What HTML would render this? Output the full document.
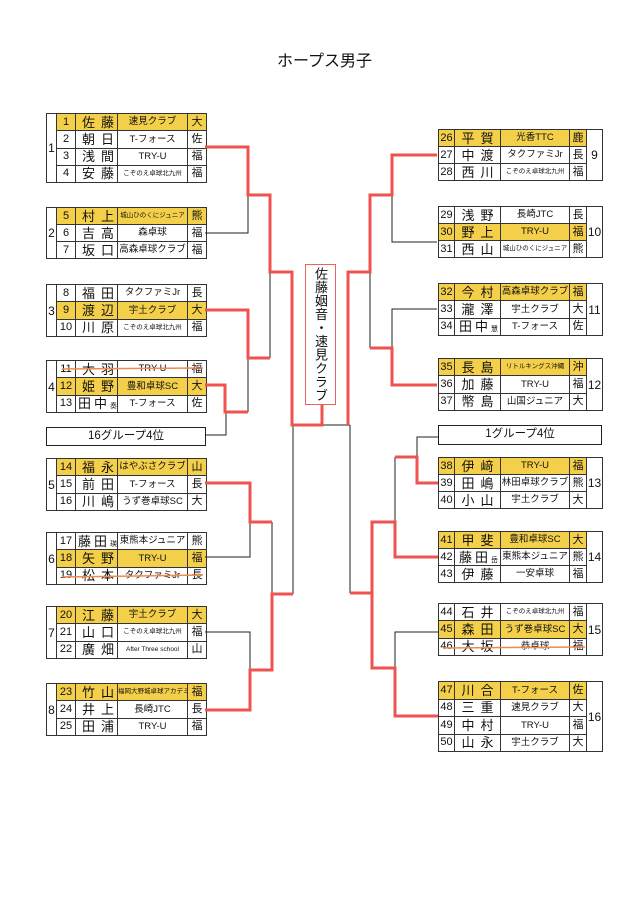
<!DOCTYPE html>
<html><head><meta charset="utf-8"><style>
body{margin:0;width:637px;height:901px;background:#fff;position:relative;overflow:hidden;font-family:"Liberation Sans","Noto Sans CJK JP",sans-serif;color:#111}
.t{position:absolute;border-collapse:collapse;border:1.5px solid #222;table-layout:fixed}
.t td{border:1px solid #333;padding:0;text-align:center;font-size:11px;line-height:1;white-space:nowrap;overflow:hidden}
.t td.n{font-size:13px;letter-spacing:6px;padding-left:6px}
.t td.n2{font-size:13px;letter-spacing:3px;padding-left:2px}
.t td.c{font-size:9.5px}
.t td.s{font-size:6.5px}
.t td.p{font-size:11px}
.t td.g{font-size:12px}
tr.y td.h{background:#f4cf4a}
.sm{font-size:7px;letter-spacing:0}
.box{position:absolute;border:1.5px solid #222;font-size:11.5px;text-align:center;line-height:17px;box-sizing:border-box}
</style></head><body>
<div style="position:absolute;left:277px;top:47px;font-size:16px;">ホープス男子</div>

<!-- LEFT -->
<table class="t" style="left:46px;top:113px;width:160px;height:70px">
<colgroup><col style="width:10px"><col style="width:19px"><col style="width:42px"><col style="width:70px"><col style="width:19px"></colgroup>
<tr class="y"><td class="g" rowspan="4">1</td><td class="h">1</td><td class="n h">佐藤</td><td class="c h">速見クラブ</td><td class="p h">大</td></tr>
<tr><td>2</td><td class="n">朝日</td><td class="c">T-フォース</td><td class="p">佐</td></tr>
<tr><td>3</td><td class="n">浅間</td><td class="c">TRY-U</td><td class="p">福</td></tr>
<tr><td>4</td><td class="n">安藤</td><td class="s">こぞのえ卓球北九州</td><td class="p">福</td></tr></table>

<table class="t" style="left:46px;top:207px;width:160px;height:52px">
<colgroup><col style="width:10px"><col style="width:19px"><col style="width:42px"><col style="width:70px"><col style="width:19px"></colgroup>
<tr class="y"><td class="g" rowspan="3">2</td><td class="h">5</td><td class="n h">村上</td><td class="s h">城山ひのくにジュニア</td><td class="p h">熊</td></tr>
<tr><td>6</td><td class="n">吉高</td><td class="c">森卓球</td><td class="p">福</td></tr>
<tr><td>7</td><td class="n">坂口</td><td class="c">高森卓球クラブ</td><td class="p">福</td></tr></table>

<table class="t" style="left:46px;top:284px;width:160px;height:53px">
<colgroup><col style="width:10px"><col style="width:19px"><col style="width:42px"><col style="width:70px"><col style="width:19px"></colgroup>
<tr><td class="g" rowspan="3">3</td><td>8</td><td class="n">福田</td><td class="c">タクファミJr</td><td class="p">長</td></tr>
<tr class="y"><td class="h">9</td><td class="n h">渡辺</td><td class="c h">宇土クラブ</td><td class="p h">大</td></tr>
<tr><td>10</td><td class="n">川原</td><td class="s">こぞのえ卓球北九州</td><td class="p">福</td></tr></table>

<table class="t" style="left:46px;top:360px;width:160px;height:53px">
<colgroup><col style="width:10px"><col style="width:19px"><col style="width:42px"><col style="width:70px"><col style="width:19px"></colgroup>
<tr><td class="g" rowspan="3">4</td><td>11</td><td class="n">大羽</td><td class="c">TRY-U</td><td class="p">福</td></tr>
<tr class="y"><td class="h">12</td><td class="n h">姫野</td><td class="c h">豊和卓球SC</td><td class="p h">大</td></tr>
<tr><td>13</td><td class="n2">田中<span class="sm">奏</span></td><td class="c">T-フォース</td><td class="p">佐</td></tr></table>

<div class="box" style="left:46px;top:427px;width:160px;height:19px">16グループ4位</div>

<table class="t" style="left:46px;top:458px;width:160px;height:53px">
<colgroup><col style="width:10px"><col style="width:19px"><col style="width:42px"><col style="width:70px"><col style="width:19px"></colgroup>
<tr class="y"><td class="g" rowspan="3">5</td><td class="h">14</td><td class="n h">福永</td><td class="c h">はやぶさクラブ</td><td class="p h">山</td></tr>
<tr><td>15</td><td class="n">前田</td><td class="c">T-フォース</td><td class="p">長</td></tr>
<tr><td>16</td><td class="n">川嶋</td><td class="c">うず巻卓球SC</td><td class="p">大</td></tr></table>

<table class="t" style="left:46px;top:532px;width:160px;height:53px">
<colgroup><col style="width:10px"><col style="width:19px"><col style="width:42px"><col style="width:70px"><col style="width:19px"></colgroup>
<tr><td class="g" rowspan="3">6</td><td>17</td><td class="n2">藤田<span class="sm">瑛</span></td><td class="c">東熊本ジュニア</td><td class="p">熊</td></tr>
<tr class="y"><td class="h">18</td><td class="n h">矢野</td><td class="c h">TRY-U</td><td class="p h">福</td></tr>
<tr><td>19</td><td class="n">松本</td><td class="c">タクファミJr</td><td class="p">長</td></tr></table>

<table class="t" style="left:46px;top:606px;width:160px;height:53px">
<colgroup><col style="width:10px"><col style="width:19px"><col style="width:42px"><col style="width:70px"><col style="width:19px"></colgroup>
<tr class="y"><td class="g" rowspan="3">7</td><td class="h">20</td><td class="n h">江藤</td><td class="c h">宇土クラブ</td><td class="p h">大</td></tr>
<tr><td>21</td><td class="n">山口</td><td class="s">こぞのえ卓球北九州</td><td class="p">福</td></tr>
<tr><td>22</td><td class="n">廣畑</td><td class="s">After Three school</td><td class="p">山</td></tr></table>

<table class="t" style="left:46px;top:683px;width:160px;height:53px">
<colgroup><col style="width:10px"><col style="width:19px"><col style="width:42px"><col style="width:70px"><col style="width:19px"></colgroup>
<tr class="y"><td class="g" rowspan="3">8</td><td class="h">23</td><td class="n h">竹山</td><td class="s h">福岡大野城卓球アカデミー</td><td class="p h">福</td></tr>
<tr><td>24</td><td class="n">井上</td><td class="c">長崎JTC</td><td class="p">長</td></tr>
<tr><td>25</td><td class="n">田浦</td><td class="c">TRY-U</td><td class="p">福</td></tr></table>

<!-- RIGHT -->
<table class="t" style="left:438px;top:129px;width:164px;height:52px">
<colgroup><col style="width:16px"><col style="width:46px"><col style="width:69px"><col style="width:17px"><col style="width:16px"></colgroup>
<tr class="y"><td class="h">26</td><td class="n h">平賀</td><td class="c h">光香TTC</td><td class="p h">鹿</td><td class="g" rowspan="3">9</td></tr>
<tr><td>27</td><td class="n">中渡</td><td class="c">タクファミJr</td><td class="p">長</td></tr>
<tr><td>28</td><td class="n">西川</td><td class="s">こぞのえ卓球北九州</td><td class="p">福</td></tr></table>

<table class="t" style="left:438px;top:206px;width:164px;height:52px">
<colgroup><col style="width:16px"><col style="width:46px"><col style="width:69px"><col style="width:17px"><col style="width:16px"></colgroup>
<tr><td>29</td><td class="n">浅野</td><td class="c">長崎JTC</td><td class="p">長</td><td class="g" rowspan="3">10</td></tr>
<tr class="y"><td class="h">30</td><td class="n h">野上</td><td class="c h">TRY-U</td><td class="p h">福</td></tr>
<tr><td>31</td><td class="n">西山</td><td class="s">城山ひのくにジュニア</td><td class="p">熊</td></tr></table>

<table class="t" style="left:438px;top:283px;width:164px;height:53px">
<colgroup><col style="width:16px"><col style="width:46px"><col style="width:69px"><col style="width:17px"><col style="width:16px"></colgroup>
<tr class="y"><td class="h">32</td><td class="n h">今村</td><td class="c h">高森卓球クラブ</td><td class="p h">福</td><td class="g" rowspan="3">11</td></tr>
<tr><td>33</td><td class="n">瀧澤</td><td class="c">宇土クラブ</td><td class="p">大</td></tr>
<tr><td>34</td><td class="n2">田中<span class="sm">慧</span></td><td class="c">T-フォース</td><td class="p">佐</td></tr></table>

<table class="t" style="left:438px;top:358px;width:164px;height:53px">
<colgroup><col style="width:16px"><col style="width:46px"><col style="width:69px"><col style="width:17px"><col style="width:16px"></colgroup>
<tr class="y"><td class="h">35</td><td class="n h">長島</td><td class="s h">リトルキングス沖縄</td><td class="p h">沖</td><td class="g" rowspan="3">12</td></tr>
<tr><td>36</td><td class="n">加藤</td><td class="c">TRY-U</td><td class="p">福</td></tr>
<tr><td>37</td><td class="n">幣島</td><td class="c">山国ジュニア</td><td class="p">大</td></tr></table>

<div class="box" style="left:438px;top:425px;width:164px;height:20px">1グループ4位</div>

<table class="t" style="left:438px;top:457px;width:164px;height:52px">
<colgroup><col style="width:16px"><col style="width:46px"><col style="width:69px"><col style="width:17px"><col style="width:16px"></colgroup>
<tr class="y"><td class="h">38</td><td class="n h">伊﨑</td><td class="c h">TRY-U</td><td class="p h">福</td><td class="g" rowspan="3">13</td></tr>
<tr><td>39</td><td class="n">田嶋</td><td class="c">林田卓球クラブ</td><td class="p">熊</td></tr>
<tr><td>40</td><td class="n">小山</td><td class="c">宇土クラブ</td><td class="p">大</td></tr></table>

<table class="t" style="left:438px;top:531px;width:164px;height:52px">
<colgroup><col style="width:16px"><col style="width:46px"><col style="width:69px"><col style="width:17px"><col style="width:16px"></colgroup>
<tr class="y"><td class="h">41</td><td class="n h">甲斐</td><td class="c h">豊和卓球SC</td><td class="p h">大</td><td class="g" rowspan="3">14</td></tr>
<tr><td>42</td><td class="n2">藤田<span class="sm">岳</span></td><td class="c">東熊本ジュニア</td><td class="p">熊</td></tr>
<tr><td>43</td><td class="n">伊藤</td><td class="c">一安卓球</td><td class="p">福</td></tr></table>

<table class="t" style="left:438px;top:603px;width:164px;height:53px">
<colgroup><col style="width:16px"><col style="width:46px"><col style="width:69px"><col style="width:17px"><col style="width:16px"></colgroup>
<tr><td>44</td><td class="n">石井</td><td class="s">こぞのえ卓球北九州</td><td class="p">福</td><td class="g" rowspan="3">15</td></tr>
<tr class="y"><td class="h">45</td><td class="n h">森田</td><td class="c h">うず巻卓球SC</td><td class="p h">大</td></tr>
<tr><td>46</td><td class="n">大坂</td><td class="c">恭卓球</td><td class="p">福</td></tr></table>

<table class="t" style="left:438px;top:681px;width:164px;height:71px">
<colgroup><col style="width:16px"><col style="width:46px"><col style="width:69px"><col style="width:17px"><col style="width:16px"></colgroup>
<tr class="y"><td class="h">47</td><td class="n h">川合</td><td class="c h">T-フォース</td><td class="p h">佐</td><td class="g" rowspan="4">16</td></tr>
<tr><td>48</td><td class="n">三重</td><td class="c">速見クラブ</td><td class="p">大</td></tr>
<tr><td>49</td><td class="n">中村</td><td class="c">TRY-U</td><td class="p">福</td></tr>
<tr><td>50</td><td class="n">山永</td><td class="c">宇土クラブ</td><td class="p">大</td></tr></table>

<div style="position:absolute;left:305px;top:264px;width:31px;height:141px;border:1.5px solid #e9635f;box-sizing:border-box;writing-mode:vertical-rl;font-size:13px;line-height:29px;text-align:center;letter-spacing:0.5px">佐藤姻音・速見クラブ</div>

<svg width="637" height="901" style="position:absolute;left:0;top:0" fill="none">
<g stroke="#222" stroke-width="1">
<polyline points="205,233 248,233 248,195"/>
<polyline points="270,272 270,358"/>
<polyline points="248,358 248,412"/>
<polyline points="205,435 226,435 226,412"/>
<polyline points="322,425 350,425"/>
<polyline points="293,425 293,594"/>
<polyline points="350,425 350,593"/>
<polyline points="272,522 272,594"/>
<polyline points="205,557 250,557 250,522"/>
<polyline points="205,632 250,632 250,670"/>
<polyline points="370,272 370,348"/>
<polyline points="437,242 392,242 392,195"/>
<polyline points="437,309 392,309 392,348"/>
<polyline points="438,437 417,437 417,457"/>
<polyline points="395,457 395,522"/>
<polyline points="438,632 395,632 395,668"/>
</g>
<g stroke="#ef5350" stroke-width="3">
<polyline points="205,147 248,147 248,195 270,195 270,272 292,272 292,425 322,425 322,405"/>
<polyline points="205,310 248,310 248,358 270,358"/>
<polyline points="205,385 225,385 225,412 248,412"/>
<polyline points="348,425 348,272 370,272 370,195 392,195 392,155 437,155"/>
<polyline points="370,348 392,348 392,385 437,385"/>
<polyline points="293,594 272,594 272,670 250,670 250,710 205,710"/>
<polyline points="205,483 250,483 250,522 272,522"/>
<polyline points="350,593 372,593 372,668 395,668 395,716 438,716"/>
<polyline points="372,593 372,522 395,522 395,557 438,557"/>
<polyline points="395,457 417,457 417,483 438,483"/>
</g>
<g stroke="#ef8a4a" stroke-width="1.5">
<line x1="62" y1="369" x2="203" y2="368"/>
<line x1="62" y1="577" x2="203" y2="575"/>
<line x1="443" y1="648" x2="585" y2="647"/>
</g>
</svg>
</body></html>
